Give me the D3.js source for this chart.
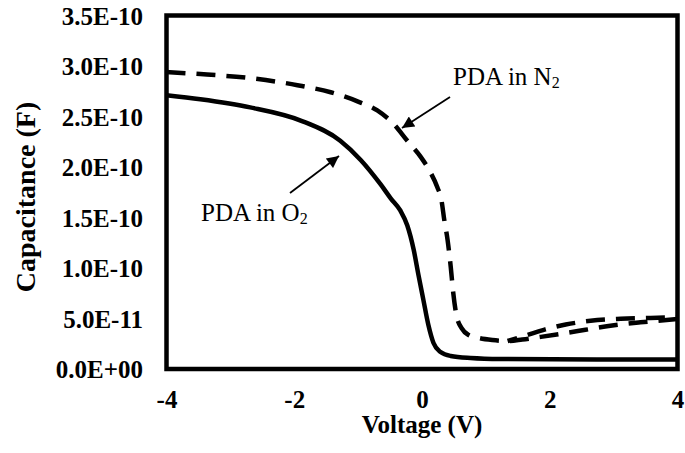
<!DOCTYPE html>
<html>
<head>
<meta charset="utf-8">
<script src="https://cdn.jsdelivr.net/npm/d3@7"></script>
<style>
  html, body { margin: 0; padding: 0; background: #fff; }
  svg { display: block; }
</style>
</head>
<body>
<svg id="chart" width="685" height="453"></svg>
<script>
// C-V curves of capacitors after post-deposition anneal (PDA) in O2 and N2

// Gate voltage (V) and capacitance (F), PDA in O2
const o2Voltage = [-4, -3.47, -2.69, -1.90, -1.28, -0.96, -0.65, -0.49, -0.34, -0.23,
                   -0.13, -0.055, 0.023, 0.10, 0.18, 0.29, 0.45, 0.76, 1.23, 2.79, 4];
const o2Capacitance = [2.71e-10, 2.67e-10, 2.59e-10, 2.46e-10, 2.26e-10, 2.07e-10, 1.83e-10,
                       1.69e-10, 1.57e-10, 1.42e-10, 1.18e-10, 0.93e-10, 0.68e-10, 0.435e-10,
                       0.257e-10, 0.168e-10, 0.129e-10, 0.109e-10, 0.099e-10, 0.094e-10, 0.094e-10];

// PDA in N2, main sweep
const n2Voltage = [-4, -3.47, -2.69, -1.95, -1.43, -1.01, -0.70, -0.45, -0.23, -0.02,
                   0.13, 0.24, 0.305, 0.35, 0.40, 0.45, 0.49, 0.54, 0.62, 0.73, 0.89,
                   1.10, 1.34, 1.57, 1.86, 2.17, 2.56, 2.95, 3.42, 4];
const n2Capacitance = [2.94e-10, 2.92e-10, 2.88e-10, 2.81e-10, 2.74e-10, 2.65e-10, 2.56e-10,
                       2.43e-10, 2.26e-10, 2.10e-10, 1.95e-10, 1.80e-10, 1.67e-10, 1.47e-10,
                       1.28e-10, 1.01e-10, 0.75e-10, 0.53e-10, 0.405e-10, 0.336e-10, 0.307e-10,
                       0.287e-10, 0.277e-10, 0.292e-10, 0.318e-10, 0.348e-10, 0.388e-10,
                       0.428e-10, 0.462e-10, 0.494e-10];

// PDA in N2, second branch in the depletion-to-inversion range
const n2BranchVoltage = [1.34, 1.62, 1.93, 2.25, 2.64, 3.11, 3.58, 4];
const n2BranchCapacitance = [0.277e-10, 0.330e-10, 0.392e-10, 0.440e-10, 0.478e-10,
                             0.497e-10, 0.506e-10, 0.514e-10];

// Axis ticks
const xTicks = [-4, -2, 0, 2, 4];
const xTickLabels = ["-4", "-2", "0", "2", "4"];
const yTicks = [0, 0.5e-10, 1.0e-10, 1.5e-10, 2.0e-10, 2.5e-10, 3.0e-10, 3.5e-10];
const yTickLabels = ["0.0E+00", "5.0E-11", "1.0E-10", "1.5E-10", "2.0E-10", "2.5E-10", "3.0E-10", "3.5E-10"];

const seriesO2 = o2Voltage.map((v, i) => ({ v, c: o2Capacitance[i] }));
const seriesN2 = n2Voltage.map((v, i) => ({ v, c: n2Capacitance[i] }));
const seriesN2b = n2BranchVoltage.map((v, i) => ({ v, c: n2BranchCapacitance[i] }));

const svg = d3.select("#chart");
const serif = "'Liberation Serif', 'Times New Roman', serif";

const plot = { left: 166.5, right: 677.5, top: 15.5, bottom: 369 };

const x = d3.scaleLinear().domain([-4, 4]).range([plot.left, plot.right]);
const y = d3.scaleLinear().domain([0, 3.5e-10]).range([plot.bottom, plot.top]);

const line = d3.line()
  .x(d => x(d.v))
  .y(d => y(d.c))
  .curve(d3.curveMonotoneX);

// Curves
svg.append("path").datum(seriesO2)
  .attr("d", line)
  .attr("fill", "none").attr("stroke", "#000")
  .attr("stroke-width", 4.5).attr("stroke-linejoin", "round");

svg.append("path").datum(seriesN2)
  .attr("d", line)
  .attr("fill", "none").attr("stroke", "#000")
  .attr("stroke-width", 4.5).attr("stroke-dasharray", "19,11");

svg.append("path").datum(seriesN2b)
  .attr("d", line)
  .attr("fill", "none").attr("stroke", "#000")
  .attr("stroke-width", 4.5).attr("stroke-dasharray", "19,11")
  .attr("stroke-dashoffset", 9);

// Plot frame
svg.append("rect")
  .attr("x", plot.left).attr("y", plot.top)
  .attr("width", plot.right - plot.left).attr("height", plot.bottom - plot.top)
  .attr("fill", "none").attr("stroke", "#000").attr("stroke-width", 4.5);

// Axes: labels only, no tick marks
const xAxis = d3.axisBottom(x).tickValues(xTicks)
  .tickFormat((d, i) => xTickLabels[i]).tickSize(0).tickPadding(0);
const gx = svg.append("g").attr("transform", `translate(0,${plot.bottom})`).call(xAxis);
gx.select(".domain").remove();
gx.selectAll("text")
  .attr("y", 39).attr("dy", null)
  .attr("font-family", serif).attr("font-weight", "bold")
  .attr("font-size", 25).attr("fill", "#000");

const yAxis = d3.axisLeft(y).tickValues(yTicks)
  .tickFormat((d, i) => yTickLabels[i]).tickSize(0).tickPadding(0);
const gy = svg.append("g").attr("transform", "translate(143,0)").call(yAxis);
gy.select(".domain").remove();
gy.selectAll("text")
  .attr("x", 0).attr("dy", "0.34em")
  .attr("font-family", serif).attr("font-weight", "bold")
  .attr("font-size", 25).attr("fill", "#000");

// Axis titles
svg.append("text")
  .attr("x", (plot.left + plot.right) / 2).attr("y", 433)
  .attr("text-anchor", "middle")
  .attr("font-family", serif).attr("font-weight", "bold").attr("font-size", 25)
  .text("Voltage (V)");

svg.append("text")
  .attr("transform", "translate(35,197) rotate(-90)")
  .attr("text-anchor", "middle")
  .attr("font-family", serif).attr("font-weight", "bold").attr("font-size", 28)
  .text("Capacitance (F)");

// Arrow markers
svg.append("defs").append("marker")
  .attr("id", "arrowhead")
  .attr("viewBox", "0 0 10 10").attr("refX", 10).attr("refY", 5)
  .attr("markerUnits", "userSpaceOnUse")
  .attr("markerWidth", 14).attr("markerHeight", 12)
  .attr("orient", "auto")
  .append("path").attr("d", "M0,0 L10,5 L0,10 Z").attr("fill", "#000");

// Series annotations
function annotate(label, sub, tx, ty, from, to) {
  const t = svg.append("text")
    .attr("x", tx).attr("y", ty)
    .attr("font-family", serif).attr("font-size", 25).attr("fill", "#000");
  t.append("tspan").text(label);
  t.append("tspan").attr("font-size", 16).attr("dy", 3).text(sub);
  svg.append("line")
    .attr("x1", from[0]).attr("y1", from[1])
    .attr("x2", to[0]).attr("y2", to[1])
    .attr("stroke", "#000").attr("stroke-width", 1.8)
    .attr("marker-end", "url(#arrowhead)");
}

annotate("PDA in N", "2", 453, 85, [450, 97], [402, 128]);
annotate("PDA in O", "2", 201, 221, [290, 193], [339, 156]);
</script>
</body>
</html>
